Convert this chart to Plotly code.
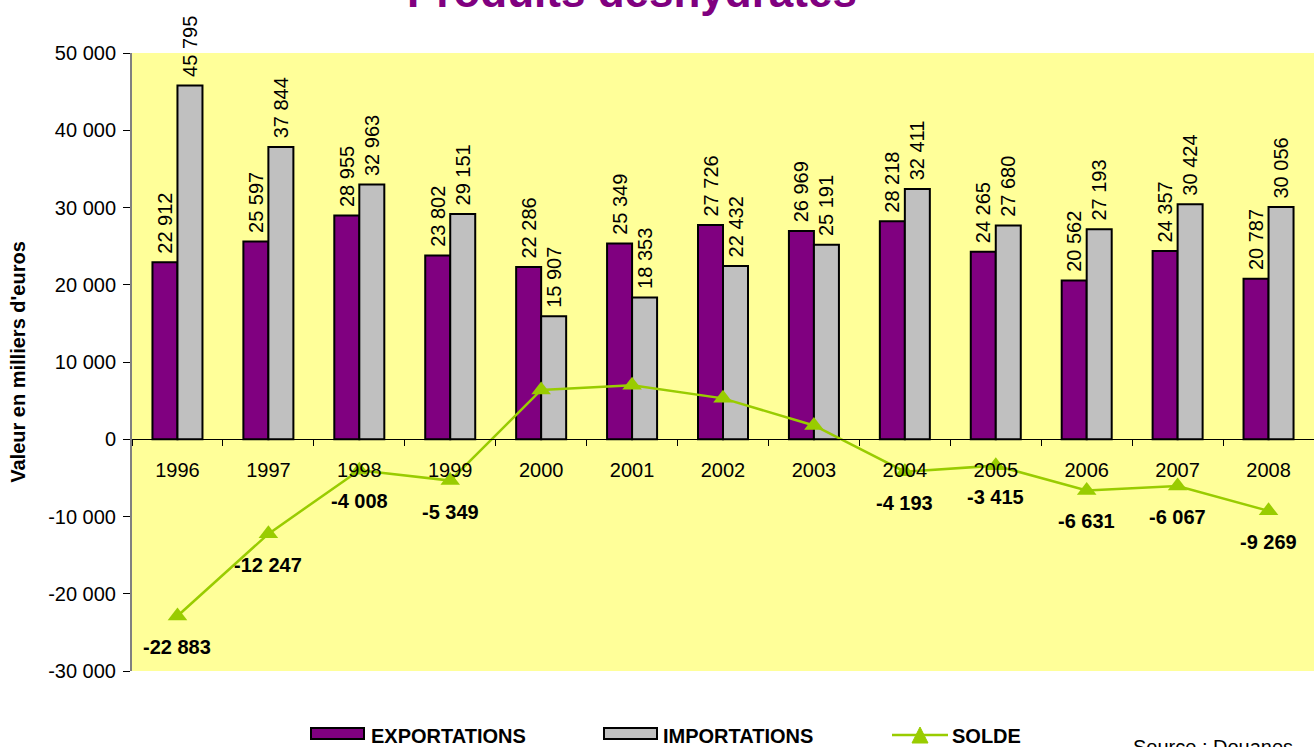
import plotly.graph_objects as go

years = ["1996", "1997", "1998", "1999", "2000", "2001", "2002", "2003", "2004", "2005", "2006", "2007", "2008"]
exportations = [22912, 25597, 28955, 23802, 22286, 25349, 27726, 26969, 28218, 24265, 20562, 24357, 20787]
importations = [45795, 37844, 32963, 29151, 15907, 18353, 22432, 25191, 32411, 27680, 27193, 30424, 30056]
solde = [-22883, -12247, -4008, -5349, 6379, 6996, 5294, 1778, -4193, -3415, -6631, -6067, -9269]
y_ticks = [-30000, -20000, -10000, 0, 10000, 20000, 30000, 40000, 50000]
y_range = [-30000, 50000]

EXPORT_COLOR = "#800080"
IMPORT_COLOR = "#C0C0C0"
SOLDE_COLOR = "#99CC00"
FONT = "Liberation Sans, Arial, sans-serif"

W, H = 1314, 747
ML, MR, MT, MB = 132, 0, 53, 76
PW, PH = W - ML - MR, H - MT - MB


def fmt(v):
    return f"{v:,}".replace(",", " ")


def px(x):
    return (x - ML) / PW


def py(y):
    return (H - MB - y) / PH


fig = go.Figure()
fig.add_trace(go.Bar(
    x=years, y=exportations, name="EXPORTATIONS",
    marker=dict(color=EXPORT_COLOR, line=dict(color="black", width=2)),
    text=["\u00a0" + fmt(v) for v in exportations], textposition="outside", textangle=-90,
    textfont=dict(size=20, color="black", family=FONT), cliponaxis=False,
    constraintext="none", hoverinfo="skip",
))
fig.add_trace(go.Bar(
    x=years, y=importations, name="IMPORTATIONS",
    marker=dict(color=IMPORT_COLOR, line=dict(color="black", width=2)),
    text=["\u00a0" + fmt(v) for v in importations], textposition="outside", textangle=-90,
    textfont=dict(size=20, color="black", family=FONT), cliponaxis=False,
    constraintext="none", hoverinfo="skip",
))
fig.add_trace(go.Scatter(
    x=years, y=solde, name="SOLDE", mode="lines+markers",
    line=dict(color=SOLDE_COLOR, width=2.5),
    marker=dict(symbol="triangle-up", size=17, color=SOLDE_COLOR),
    cliponaxis=False, hoverinfo="skip",
))

annotations = []
for i, v in enumerate(solde):
    if v < 0:
        annotations.append(dict(
            x=i, y=v, xref="x", yref="y", text="<b>" + fmt(v) + "</b>",
            showarrow=False, yshift=-31, xanchor="center", yanchor="middle",
            font=dict(size=20, color="black", family=FONT)))

annotations += [
    dict(text="<b>Produits déshydratés</b>", xref="paper", yref="paper", x=px(632), y=1,
         xanchor="center", yanchor="middle", yshift=62, showarrow=False,
         font=dict(size=44, color=EXPORT_COLOR, family=FONT)),
    dict(text="Source : Douanes", xref="paper", yref="paper", x=px(1131), y=py(734),
         xanchor="left", yanchor="top", showarrow=False,
         font=dict(size=20, color="black", family=FONT)),
    # custom legend texts
    dict(text="<b>EXPORTATIONS</b>", xref="paper", yref="paper", x=px(369), y=py(736),
         xanchor="left", yanchor="middle", showarrow=False,
         font=dict(size=20, color="black", family=FONT)),
    dict(text="<b>IMPORTATIONS</b>", xref="paper", yref="paper", x=px(661), y=py(736),
         xanchor="left", yanchor="middle", showarrow=False,
         font=dict(size=20, color="black", family=FONT)),
    dict(text="<b>SOLDE</b>", xref="paper", yref="paper", x=px(950), y=py(736),
         xanchor="left", yanchor="middle", showarrow=False,
         font=dict(size=20, color="black", family=FONT)),
]

shapes = [
    dict(type="rect", xref="paper", yref="paper", x0=px(311), x1=px(364), y0=py(739), y1=py(728),
         fillcolor=EXPORT_COLOR, line=dict(color="black", width=2)),
    dict(type="rect", xref="paper", yref="paper", x0=px(604), x1=px(657), y0=py(739), y1=py(728),
         fillcolor=IMPORT_COLOR, line=dict(color="black", width=2)),
    dict(type="line", xref="paper", yref="paper", x0=px(892), x1=px(948), y0=py(735), y1=py(735),
         line=dict(color=SOLDE_COLOR, width=2.5)),
    dict(type="path", xref="paper", yref="paper",
         path=f"M {px(912)} {py(743)} L {px(928)} {py(743)} L {px(920)} {py(727)} Z",
         fillcolor=SOLDE_COLOR, line=dict(color=SOLDE_COLOR, width=1)),
]

fig.update_layout(
    width=W, height=H,
    margin=dict(l=ML, r=MR, t=MT, b=MB, autoexpand=False),
    paper_bgcolor="white", plot_bgcolor="#FFFF99",
    barmode="group", bargap=0.45, bargroupgap=0,
    font=dict(family=FONT, size=20, color="black"),
    showlegend=False,
    xaxis=dict(type="category", categoryarray=years, range=[-0.5, 12.5],
               anchor="free", position=0.375, automargin=False,
               showline=True, linecolor="black", linewidth=1,
               ticks="outside", tickson="boundaries", ticklen=6, tickcolor="black",
               showgrid=False, tickfont=dict(size=20), ticklabelstandoff=13),
    xaxis2=dict(type="category", categoryarray=years, range=[-0.5, 12.5],
                overlaying="x", anchor="free", position=0.375, automargin=False,
                showline=False, ticks="inside", tickson="boundaries", ticklen=7,
                tickcolor="black", showgrid=False, showticklabels=False),
    yaxis=dict(range=y_range, tickvals=y_ticks, ticktext=[fmt(v) for v in y_ticks],
               showline=True, linecolor="#808080", linewidth=2, ticks="outside",
               ticklen=7, tickcolor="black", showgrid=False, zeroline=False,
               tickfont=dict(size=20), automargin=False, ticklabelstandoff=3,
               title=dict(text="<b>Valeur en milliers d'euros</b>", font=dict(size=20), standoff=17)),
    yaxis2=dict(range=y_range, tickvals=y_ticks, overlaying="y", side="left", anchor="x",
                showline=False, ticks="inside", ticklen=6, tickcolor="black",
                showgrid=False, zeroline=False, showticklabels=False, automargin=False),
    annotations=annotations,
    shapes=shapes,
)

fig.write_html("out.html", config={"displayModeBar": False},
               post_script="document.body.style.margin='0';document.body.style.overflow='hidden';")
